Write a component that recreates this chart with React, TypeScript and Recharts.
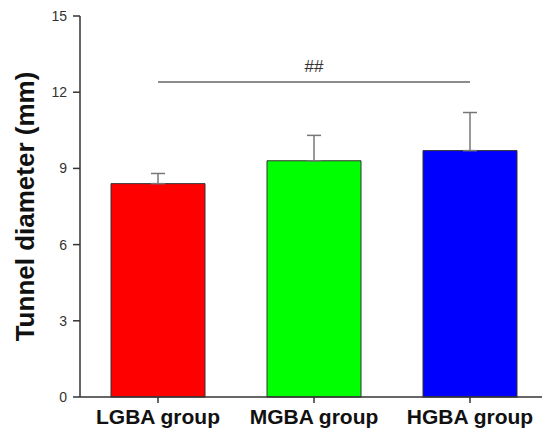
import { Bar, BarChart, Cell, ErrorBar, ReferenceLine, XAxis, YAxis } from "recharts";

const groups = ["LGBA group", "MGBA group", "HGBA group"];
const means = [8.4, 9.3, 9.7];
const sds = [0.4, 1.0, 1.5];
const colors = ["#ff0000", "#00ff00", "#0000ff"];
const yTicks = [0, 3, 6, 9, 12, 15];
const sigY = 12.4;

const rows = groups.map((g, i) => ({ group: g, mean: means[i], err: [0, sds[i]] }));

const font = "Arial, 'Liberation Sans', sans-serif";

function YTitle(props: any) {
  const vb = props.viewBox || {};
  const cy = vb.y + vb.height / 2;
  return (
    <text
      x={34}
      y={cy}
      transform={`rotate(-90, 34, ${cy})`}
      textAnchor="middle"
      fontFamily={font}
      fontWeight="bold"
      fontSize={26}
      fill="#111"
    >
      Tunnel diameter (mm)
    </text>
  );
}

export default function App() {
  return (
    <div style={{ position: "absolute", left: 0, top: 0, width: 542, height: 429, overflow: "hidden", background: "#fff" }}>
      <BarChart width={548} height={429} data={rows} margin={{ top: 16, right: 0, bottom: 0, left: 0 }}>
        <XAxis
          dataKey="group"
          height={32}
          tickSize={6}
          tickMargin={6}
          axisLine={{ stroke: "#333", strokeWidth: 1.5 }}
          tickLine={{ stroke: "#333", strokeWidth: 1.5 }}
          tick={{ fontFamily: font, fontSize: 21, fontWeight: "bold", fill: "#111" }}
          interval={0}
        />
        <YAxis
          width={80}
          domain={[0, 15]}
          ticks={yTicks}
          tickSize={7}
          tickMargin={6}
          axisLine={{ stroke: "#333", strokeWidth: 1.5 }}
          tickLine={{ stroke: "#333", strokeWidth: 1.5 }}
          tick={{ fontFamily: font, fontSize: 14, fill: "#333" }}
          label={<YTitle />}
        />
        <Bar dataKey="mean" barSize={94} stroke="#333" strokeWidth={1} isAnimationActive={false}>
          {rows.map((r, i) => (
            <Cell key={r.group} fill={colors[i]} />
          ))}
          <ErrorBar dataKey="err" direction="y" width={7} stroke="#777" strokeWidth={1.5} isAnimationActive={false} />
        </Bar>
        <ReferenceLine
          segment={[
            { x: groups[0], y: sigY },
            { x: groups[2], y: sigY },
          ]}
          stroke="#666"
          strokeWidth={1.5}
          label={{ value: "##", position: "top", offset: 10, fontFamily: font, fontSize: 17, fill: "#333" }}
        />
      </BarChart>
    </div>
  );
}
